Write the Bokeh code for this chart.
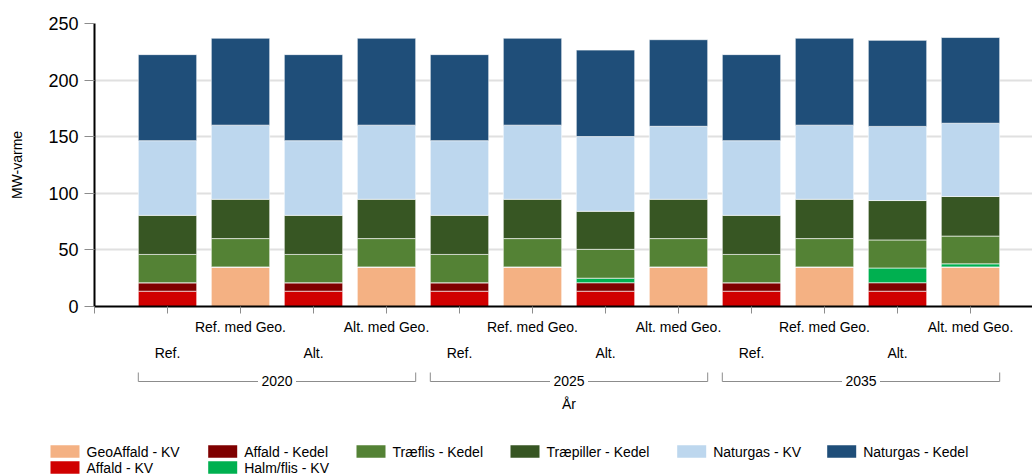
from bokeh.plotting import figure
from bokeh.layouts import column
from bokeh.models import ColumnDataSource, FixedTicker, LinearAxis, Range1d
from bokeh.core.properties import value
from bokeh.embed import file_html
from bokeh.resources import INLINE

# ---- data -------------------------------------------------------------
years = ["2020", "2025", "2035"]
scenarios = ["Ref.", "Ref. med Geo.", "Alt.", "Alt. med Geo."]
y_ticks = [0, 50, 100, 150, 200, 250]

# MW-varme per bar (3 years x 4 scenarios)
geoaffald_kv   = [0, 35, 0, 35, 0, 35, 0, 35, 0, 35, 0, 35]
affald_kv      = [13.5, 0, 13.5, 0, 13.5, 0, 13.5, 0, 13.5, 0, 13.5, 0]
affald_kedel   = [7.5, 0, 7.5, 0, 7.5, 0, 7.5, 0, 7.5, 0, 7.5, 0]
halm_flis_kv   = [0, 0, 0, 0, 0, 0, 4, 0, 0, 0, 13, 2.7]
traeflis_kedel = [25, 25, 25, 25, 25, 25, 25.5, 25, 25, 25, 24.8, 24.5]
traepiller_kedel = [34.5, 34.7, 34.5, 34.7, 34.5, 34.7, 33.6, 34.7, 34.5, 34.7, 34.8, 35]
naturgas_kv    = [66, 65.5, 66, 65.5, 66, 65.5, 66, 64.5, 66, 65.5, 65.5, 64.7]
naturgas_kedel = [76, 76.8, 76, 76.8, 76, 76.8, 76.4, 76.5, 76, 76.8, 76, 75.7]

# series: key, legend name, colour, values (stacking order bottom -> top)
series = [
    ("geoaffald_kv", "GeoAffald - KV", "#f4b183", geoaffald_kv),
    ("affald_kv", "Affald - KV", "#d00000", affald_kv),
    ("affald_kedel", "Affald - Kedel", "#7f0000", affald_kedel),
    ("halm_flis_kv", "Halm/flis - KV", "#00b050", halm_flis_kv),
    ("traeflis_kedel", "Træflis - Kedel", "#548235", traeflis_kedel),
    ("traepiller_kedel", "Træpiller - Kedel", "#375623", traepiller_kedel),
    ("naturgas_kv", "Naturgas - KV", "#bdd7ee", naturgas_kv),
    ("naturgas_kedel", "Naturgas - Kedel", "#1f4e79", naturgas_kedel),
]
legend_order = ["GeoAffald - KV", "Affald - Kedel", "Træflis - Kedel", "Træpiller - Kedel",
                "Naturgas - KV", "Naturgas - Kedel", "Affald - KV", "Halm/flis - KV"]

FONT_NAME = "Liberation Sans"
FONT = value(FONT_NAME)
TXT = "#000000"

n_bars = len(years) * len(scenarios)
x_pos = list(range(1, n_bars + 1))
slot_px = 73.0          # horizontal pixels per bar slot
left_px = 94            # frame left edge
W, H = 1032, 475
TOP_H = 365
x_end = (W - left_px) / slot_px

src = ColumnDataSource(dict(x=x_pos, **{k: v for k, _, _, v in series}))

# ---- main chart -------------------------------------------------------
p = figure(width=W, height=TOP_H, title=None,
           x_range=Range1d(0, x_end), y_range=Range1d(0, 250),
           output_backend="svg", toolbar_location=None,
           min_border_left=left_px, min_border_right=0,
           min_border_top=23, min_border_bottom=59)
p.frame_align = False
p.outline_line_color = None
p.xgrid.visible = False
p.ygrid.ticker = FixedTicker(ticks=y_ticks)
p.ygrid.grid_line_color = "#e0e0e0"
p.ygrid.grid_line_width = 2

p.vbar_stack([k for k, _, _, _ in series], x="x", width=0.8, source=src,
             fill_color=[c for _, _, c, _ in series],
             line_color="white", line_width=1, line_alpha=0.6)

# y axis
ya = p.yaxis[0]
ya.ticker = FixedTicker(ticks=y_ticks)
ya.axis_label = "MW-varme"
ya.axis_label_text_font = FONT_NAME
ya.axis_label_text_font_size = "14px"
ya.axis_label_text_font_style = "normal"
ya.axis_label_text_color = TXT
ya.axis_label_standoff = 20
ya.major_label_text_font = FONT_NAME
ya.major_label_text_font_size = "18px"
ya.major_label_text_color = TXT
ya.major_label_standoff = 6
ya.major_tick_out = 10
ya.major_tick_in = 0
ya.minor_tick_out = 0
ya.minor_tick_in = 0
ya.major_tick_line_color = "#8c8c8c"
ya.axis_line_color = "#000000"
ya.axis_line_width = 2

# x axis, upper row of scenario labels (every second bar) plus all ticks
upper = {i + 1: (scenarios[i % 4] if i % 2 == 1 else "") for i in range(n_bars)}
upper[0] = ""
xa = p.xaxis[0]
xa.ticker = FixedTicker(ticks=[0] + x_pos)
xa.major_label_overrides = upper
xa.major_label_text_font = FONT_NAME
xa.major_label_text_font_size = "14px"
xa.major_label_text_color = TXT
xa.major_label_standoff = 5
xa.major_tick_out = 7
xa.major_tick_in = 0
xa.minor_tick_out = 0
xa.minor_tick_in = 0
xa.major_tick_line_color = "#8c8c8c"
xa.axis_line_color = "#000000"
xa.axis_line_width = 2

# x axis, lower row of scenario labels
lower_ticks = [x for x in x_pos if (x - 1) % 2 == 0]
xb = LinearAxis(ticker=FixedTicker(ticks=lower_ticks),
                major_label_overrides={x: scenarios[(x - 1) % 4] for x in lower_ticks},
                major_label_text_font=FONT_NAME, major_label_text_font_size="14px",
                major_label_text_color=TXT, major_label_standoff=7,
                major_tick_out=0, major_tick_in=0, minor_tick_out=0, minor_tick_in=0,
                axis_line_color=None, major_tick_line_color=None)
p.add_layout(xb, "below")

# ---- year brackets, axis title and legend ----------------------------
q = figure(width=W, height=H - TOP_H, title=None,
           x_range=Range1d(-left_px / slot_px, x_end), y_range=Range1d(H - TOP_H, 0),
           output_backend="svg", toolbar_location=None,
           x_axis_type=None, y_axis_type=None, min_border=0)
q.frame_align = False
q.outline_line_color = None
q.grid.visible = False

def px(v):
    """Horizontal pixel offset -> slot units."""
    return (v - left_px) / slot_px

gap = 19 / slot_px
bx0, by0, bx1, by1 = [], [], [], []
centers = []
for g in range(len(years)):
    lft = g * len(scenarios) + 1 - 0.4
    rgt = (g + 1) * len(scenarios) + 0.4
    c = (lft + rgt) / 2
    centers.append(c)
    bx0 += [lft, rgt, lft, c + gap]
    bx1 += [lft, rgt, c - gap, rgt]
    by0 += [7, 7, 16, 16]
    by1 += [16, 16, 16, 16]
q.segment(bx0, by0, bx1, by1, line_color="#8c8c8c", line_width=1)
q.text(x=centers, y=[15] * len(years), text=years, text_font=FONT,
       text_font_size="14px", text_color=TXT, text_align="center", text_baseline="middle")
q.text(x=[len(scenarios) * len(years) / 2 + 0.5], y=[38], text=["År"], text_font=FONT,
       text_font_size="14px", text_color=TXT, text_align="center", text_baseline="middle")

colour_of = {name: c for _, name, c, _ in series}
col_px = [50, 207.7, 356, 510, 676.7, 826.7]
row_y = [86, 102]
lx, ly, lc, tx = [], [], [], []
for i, name in enumerate(legend_order):
    r, cidx = divmod(i, 6)
    lx.append(px(col_px[cidx] + 14.5))
    tx.append(px(col_px[cidx] + 36))
    ly.append(row_y[r])
    lc.append(colour_of[name])
q.rect(x=lx, y=ly, width=29, height=12.5, width_units="screen", height_units="screen",
       fill_color=lc, line_color=None)
q.text(x=tx, y=ly, text=legend_order, text_font=FONT, text_font_size="14px",
       text_color=TXT, text_align="left", text_baseline="middle")

layout = column(p, q, spacing=0)
open("out.html", "w").write(file_html(layout, INLINE))
